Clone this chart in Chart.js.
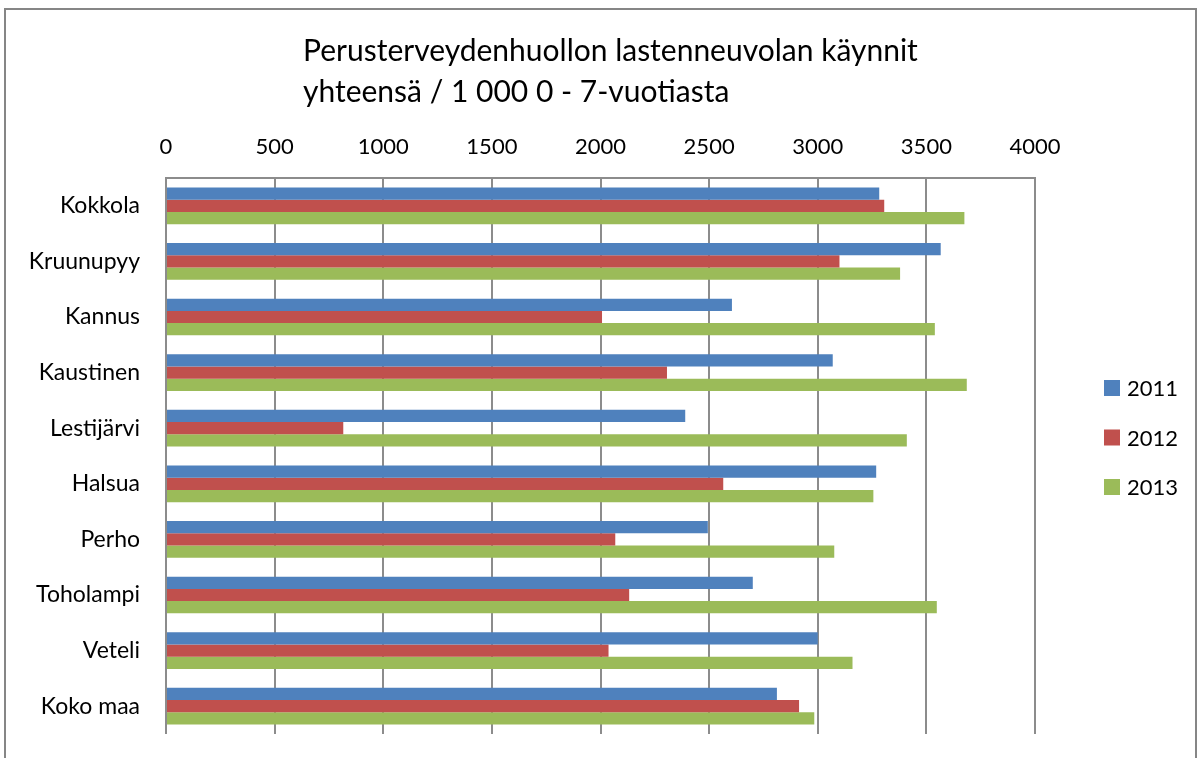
<!DOCTYPE html>
<html>
<head>
<meta charset="utf-8">
<script src="https://cdn.jsdelivr.net/npm/chart.js@4/dist/chart.umd.min.js"></script>
<style>
html,body{margin:0;padding:0;background:#fff;}
#c{display:block;}
</style>
</head>
<body>
<canvas id="c" width="1202" height="758"></canvas>
<script>
const titleLines = ["Perusterveydenhuollon lastenneuvolan käynnit", "yhteensä / 1 000 0 - 7-vuotiasta"];
const categories = ["Kokkola","Kruunupyy","Kannus","Kaustinen","Lestijärvi","Halsua","Perho","Toholampi","Veteli","Koko maa"];
const seriesNames = ["2011","2012","2013"];
const values2011 = [3283,3566,2605,3069,2390,3269,2494,2701,3000,2812];
const values2012 = [3306,3100,2007,2306,816,2565,2068,2132,2037,2914];
const values2013 = [3675,3379,3539,3686,3410,3256,3076,3548,3160,2984];
const colors = ["#4F81BD","#C0504D","#9BBB59"];
const FONT = "Lato, 'Open Sans', sans-serif";

const framePlugin = {
  id: 'frame',
  afterDraw(chart) {
    const ctx = chart.ctx;
    ctx.save();
    ctx.strokeStyle = '#868686';
    ctx.lineWidth = 2;
    ctx.strokeRect(5, 9, 1191, 800);
    // title
    ctx.fillStyle = '#000';
    ctx.font = "30px " + FONT;
    ctx.textAlign = 'left';
    ctx.textBaseline = 'middle';
    ctx.fillText(titleLines[0], 303, 51);
    ctx.fillText(titleLines[1], 303, 92);
    // legend
    ctx.font = "22px " + FONT;
    chart.data.datasets.forEach((ds, i) => {
      const y = 388 + i * 49.5;
      ctx.fillStyle = ds.backgroundColor;
      ctx.fillRect(1104, y - 8, 16, 16);
      ctx.fillStyle = '#000';
      ctx.fillText(ds.label, 1127, y + 1);
    });
    ctx.restore();
  }
};

new Chart(document.getElementById('c'), {
  type: 'bar',
  data: {
    labels: categories,
    datasets: [
      {label: seriesNames[0], data: values2011, backgroundColor: colors[0]},
      {label: seriesNames[1], data: values2012, backgroundColor: colors[1]},
      {label: seriesNames[2], data: values2013, backgroundColor: colors[2]}
    ]
  },
  options: {
    indexAxis: 'y',
    responsive: false,
    animation: false,
    devicePixelRatio: 1,
    layout: {padding: {left: 0, top: 0, right: 167, bottom: 24}},
    datasets: {bar: {categoryPercentage: 0.66, barPercentage: 1.0, borderWidth: 0}},
    plugins: {legend: {display: false}, title: {display: false}, tooltip: {enabled: false}},
    scales: {
      x: {
        position: 'top',
        min: 0, max: 4000,
        ticks: {stepSize: 500, color: '#000', font: {family: FONT, size: 22}, padding: 18, maxRotation: 0,
                callback: (v) => String(v)},
        grid: {color: '#8c8c8c', lineWidth: 2, drawTicks: false},
        border: {display: true, color: '#8c8c8c', width: 2},
        afterFit(scale) { scale.height = 178; scale.paddingLeft = 0; scale.paddingRight = 0; }
      },
      y: {
        ticks: {color: '#000', font: {family: FONT, size: 23}, padding: 26},
        grid: {display: false, drawTicks: false},
        border: {display: false},
        afterFit(scale) { scale.width = 166; scale.paddingTop = 0; scale.paddingBottom = 0; }
      }
    }
  },
  plugins: [framePlugin]
});
</script>
</body>
</html>
